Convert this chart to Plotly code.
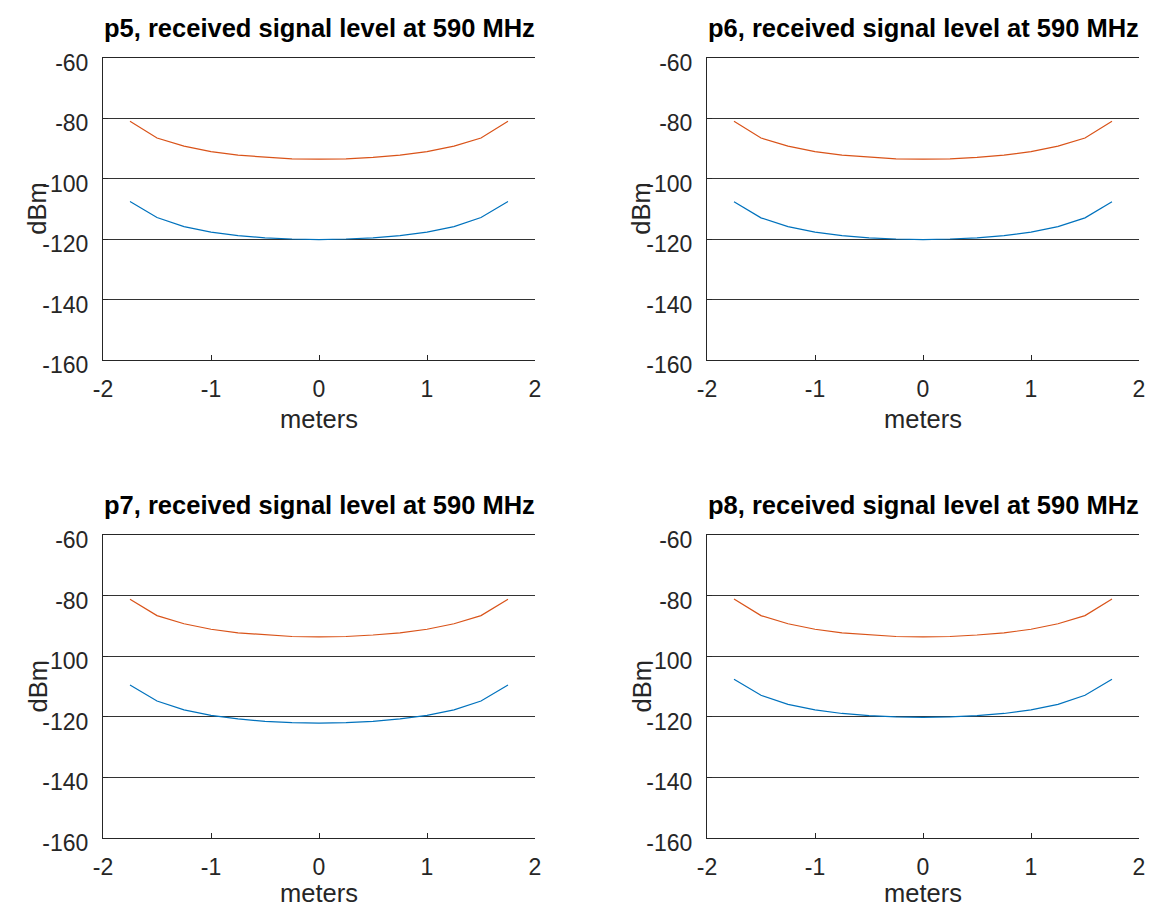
import plotly.graph_objects as go

W, H = 1153, 911

# ---------------- data ----------------
meters = [-1.75, -1.5, -1.25, -1.0, -0.75, -0.5, -0.25, 0.0, 0.25, 0.5, 0.75, 1.0, 1.25, 1.5, 1.75]

panel_names = ["p5", "p6", "p7", "p8"]

orange_p5 = [-81.1, -86.6, -89.3, -91.1, -92.3, -93.0, -93.5, -93.6, -93.5, -93.0, -92.3, -91.1, -89.3, -86.6, -81.1]
orange_p6 = [-81.1, -86.6, -89.3, -91.1, -92.3, -93.0, -93.5, -93.6, -93.5, -93.0, -92.3, -91.1, -89.3, -86.6, -81.1]
orange_p7 = [-81.2, -86.6, -89.3, -91.1, -92.3, -93.0, -93.5, -93.6, -93.5, -93.0, -92.3, -91.1, -89.3, -86.6, -81.2]
orange_p8 = [-81.1, -86.6, -89.3, -91.1, -92.3, -93.0, -93.5, -93.6, -93.5, -93.0, -92.3, -91.1, -89.3, -86.6, -81.1]

blue_p5 = [-107.6, -112.9, -115.9, -117.7, -118.9, -119.6, -120.0, -120.2, -120.0, -119.6, -118.9, -117.7, -115.9, -112.9, -107.6]
blue_p6 = [-107.7, -113.0, -115.9, -117.7, -118.9, -119.6, -120.0, -120.2, -120.0, -119.6, -118.9, -117.7, -115.9, -113.0, -107.7]
blue_p7 = [-109.5, -114.8, -117.7, -119.5, -120.7, -121.5, -121.9, -122.1, -121.9, -121.5, -120.7, -119.5, -117.7, -114.8, -109.5]
blue_p8 = [-107.6, -112.9, -115.9, -117.7, -118.9, -119.6, -120.0, -120.2, -120.0, -119.6, -118.9, -117.7, -115.9, -112.9, -107.6]

x_tickvals = [-2, -1, 0, 1, 2]
x_ticktext = ["-2", "-1", "0", "1", "2"]
y_tickvals = [-160, -140, -120, -100, -80, -60]
y_ticktext = ["-160", "-140", "-120", "-100", "-80", "-60"]

orange_series = [orange_p5, orange_p6, orange_p7, orange_p8]
blue_series = [blue_p5, blue_p6, blue_p7, blue_p8]

# ---------------- layout (pixels) ----------------
col_px = [(103, 535), (707, 1139)]
row_px = [(57.5, 360), (535, 838)]
xlabel_off = [59, 55]

def px_x(p):
    return p / W

def px_y(p):
    return 1 - p / H

BLUE = "#0072BD"
ORANGE = "#D95319"
AX = "#262626"
FONT = "Liberation Sans, Arial, Helvetica, sans-serif"

fig = go.Figure()
annotations = []
layout_axes = {}

for i, name in enumerate(panel_names):
    r, c = divmod(i, 2)
    xa = "x" if i == 0 else f"x{i+1}"
    ya = "y" if i == 0 else f"y{i+1}"
    x0, x1 = col_px[c]
    y0, y1 = row_px[r]

    fig.add_trace(go.Scatter(x=meters, y=blue_series[i], mode="lines",
                             line=dict(color=BLUE, width=1.2), xaxis=xa, yaxis=ya,
                             showlegend=False))
    fig.add_trace(go.Scatter(x=meters, y=orange_series[i], mode="lines",
                             line=dict(color=ORANGE, width=1.2), xaxis=xa, yaxis=ya,
                             showlegend=False))

    xkey = "xaxis" if i == 0 else f"xaxis{i+1}"
    ykey = "yaxis" if i == 0 else f"yaxis{i+1}"
    layout_axes[xkey] = dict(
        domain=[px_x(x0), px_x(x1)], anchor=ya, range=[-2, 2],
        tickvals=x_tickvals, ticktext=x_ticktext,
        ticks="inside", ticklen=5, tickcolor=AX, tickwidth=1,
        showline=True, linecolor=AX, linewidth=1, mirror=True,
        showgrid=False, zeroline=False, automargin=False,
        tickfont=dict(family=FONT, size=23, color=AX),
        ticklabelstandoff=8,
    )
    layout_axes[ykey] = dict(
        domain=[px_y(y1), px_y(y0)], anchor=xa, range=[-160, -60],
        tickvals=y_tickvals, ticktext=y_ticktext,
        ticks="inside", ticklen=5, tickcolor=AX, tickwidth=1,
        showline=True, linecolor=AX, linewidth=1,
        showgrid=True, gridcolor="#333333", gridwidth=1,
        zeroline=False, automargin=False,
        tickfont=dict(family=FONT, size=23, color=AX),
        ticklabelstandoff=9, ticklabelshift=5,
    )

    cx = (x0 + x1) / 2
    annotations.append(dict(
        text=f"<b>{name}, received signal level at 590 MHz</b>",
        x=px_x(cx), y=px_y(y0 - 30), xref="paper", yref="paper",
        xanchor="center", yanchor="middle", showarrow=False,
        font=dict(family=FONT, size=25.5, color="#000000")))
    annotations.append(dict(
        text="meters", x=px_x(cx), y=px_y(y1 + xlabel_off[r]), xref="paper", yref="paper",
        xanchor="center", yanchor="middle", showarrow=False,
        font=dict(family=FONT, size=25.5, color=AX)))
    annotations.append(dict(
        text="dBm", x=px_x(x0 - 66), y=px_y((y0 + y1) / 2), xref="paper", yref="paper",
        xanchor="center", yanchor="middle", showarrow=False, textangle=-90,
        font=dict(family=FONT, size=25.5, color=AX)))

fig.update_layout(
    width=W, height=H,
    margin=dict(l=0, r=0, t=0, b=0, pad=0, autoexpand=False),
    paper_bgcolor="white", plot_bgcolor="white",
    annotations=annotations,
    **layout_axes,
)

fig.write_html("out.html")
